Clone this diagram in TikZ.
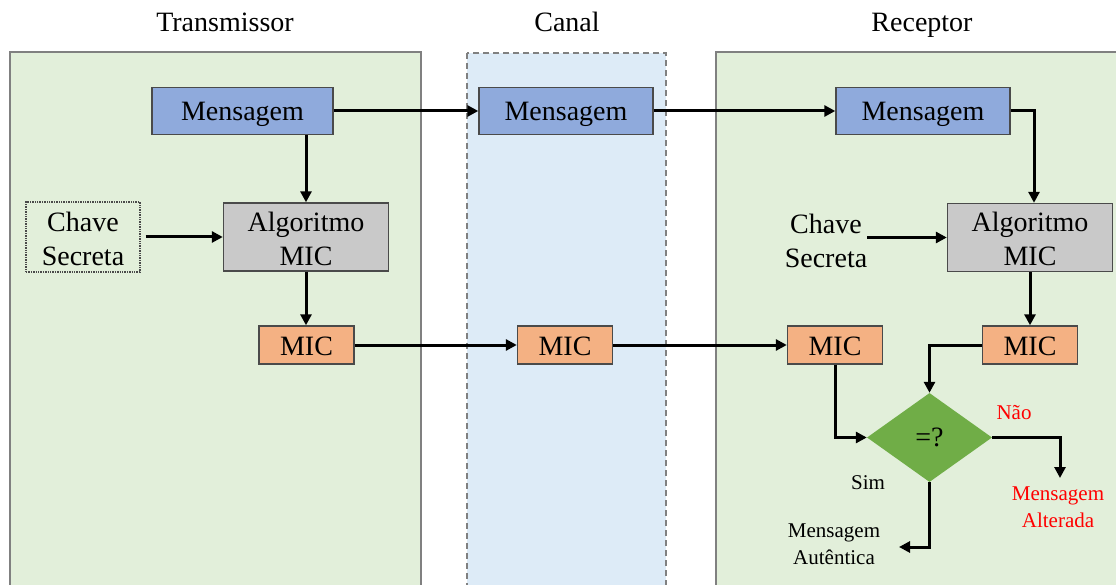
\documentclass[tikz,border=0pt]{standalone}
\usepackage{fontspec}
\setmainfont{Liberation Serif}
\usetikzlibrary{arrows.meta,shapes.geometric}

\definecolor{panelgreen}{HTML}{E2EFDA}
\definecolor{panelblue}{HTML}{DDEBF7}
\definecolor{msgblue}{HTML}{8FAADC}
\definecolor{alggray}{HTML}{C9C9C9}
\definecolor{micorange}{HTML}{F4B183}
\definecolor{cmpgreen}{HTML}{70AD47}
\definecolor{edgegray}{HTML}{808080}
\definecolor{boxedge}{HTML}{4A4A4A}

\tikzset{
  big/.style={font=\fontsize{28}{34}\selectfont},
  small/.style={font=\fontsize{21}{27}\selectfont},
  panel/.style={draw=edgegray, line width=2pt},
  blk/.style={draw=boxedge, line width=1.4pt, big, inner sep=0pt, align=center},
  oneline/.style={text height=20pt, text depth=0pt},
  twoline/.style={text height=57pt, text depth=0pt},
  msgbox/.style={blk, oneline, fill=msgblue, minimum height=47pt},
  algbox/.style={blk, twoline, fill=alggray, minimum width=165pt, minimum height=68pt},
  micbox/.style={blk, oneline, fill=micorange, minimum width=95pt, minimum height=38pt},
  keybox/.style={blk, twoline, densely dotted, minimum width=114pt, minimum height=70pt},
  flow/.style={line width=3pt, -{Triangle[length=11pt,width=11pt]}},
}

\begin{document}
\begin{tikzpicture}[x=1pt,y=-1pt]
\useasboundingbox (0,0) rectangle (1116,585);
\clip (0,0) rectangle (1116,585);

% panels
\draw[panel, fill=panelgreen] (10,52) rectangle (421,600);
\draw[panel, fill=panelblue, dash pattern=on 6pt off 4pt] (467,53) rectangle (666,600);
\draw[panel, fill=panelgreen] (716,52) rectangle (1130,600);

% headings
\node[big, anchor=base] (htx) at (225,32) {Transmissor};
\node[big, anchor=base] (hch) at (567,32) {Canal};
\node[big, anchor=base] (hrx) at (922,32) {Receptor};

% transmitter
\node[msgbox, minimum width=181pt] (tm) at (242.5,111) {Mensagem};
\node[algbox] (ta) at (306,237) {Algoritmo\\MIC};
\node[keybox] (tk) at (83,237) {Chave\\Secreta};
\node[micbox] (tmic) at (306.5,345) {MIC};

% channel
\node[msgbox, minimum width=174pt] (cm) at (566,111) {Mensagem};
\node[micbox] (cmic) at (565,345) {MIC};

% receiver
\node[msgbox, minimum width=174pt] (rm) at (923,111) {Mensagem};
\node[algbox] (ra) at (1030,237.5) {Algoritmo\\MIC};
\node[big, twoline, align=center, inner sep=0pt] (rk) at (826,239) {Chave\\Secreta};
\node[micbox] (rmic1) at (835,345) {MIC};
\node[micbox] (rmic2) at (1030,345) {MIC};
\node[diamond, draw=none, fill=cmpgreen, minimum width=125pt, minimum height=89pt,
      inner sep=0pt, big] (cmp) at (929.5,437.5) {=?};

\node[small, text=red] (nao) at (1014,413) {Não};
\node[small] (sim) at (868,483) {Sim};
\node[small, text=red, align=center] (alt) at (1058,507) {Mensagem\\Alterada};
\node[small, align=center] (aut) at (834,544) {Mensagem\\Autêntica};

\coordinate (altend) at (1060,478);
\coordinate (autend) at (899,547);

% connectors
\draw[flow] (tm.east) -- (cm.west);
\draw[flow] (cm.east) -- (rm.west);
\draw[flow] (ta.north |- tm.south) -- (ta.north);
\draw[flow] (ta.south) -- (ta.south |- tmic.north);
\draw[flow] ([xshift=5pt]tk.east) -- (ta.west);
\draw[flow] (tmic.east) -- (cmic.west);
\draw[flow] (cmic.east) -- (rmic1.west);

\draw[flow] (rm.east) -| ([xshift=4pt]ra.north);
\draw[flow] (rk.east |- ra.west) -- (ra.west);
\draw[flow] (ra.south) -- (rmic2.north);
\draw[flow] (rmic2.west) -| (cmp.north);
\draw[flow] (rmic1.south) |- (cmp.west);
\draw[flow] (cmp.east) -| (altend);
\draw[flow] (cmp.south) |- (autend);
\end{tikzpicture}
\end{document}
